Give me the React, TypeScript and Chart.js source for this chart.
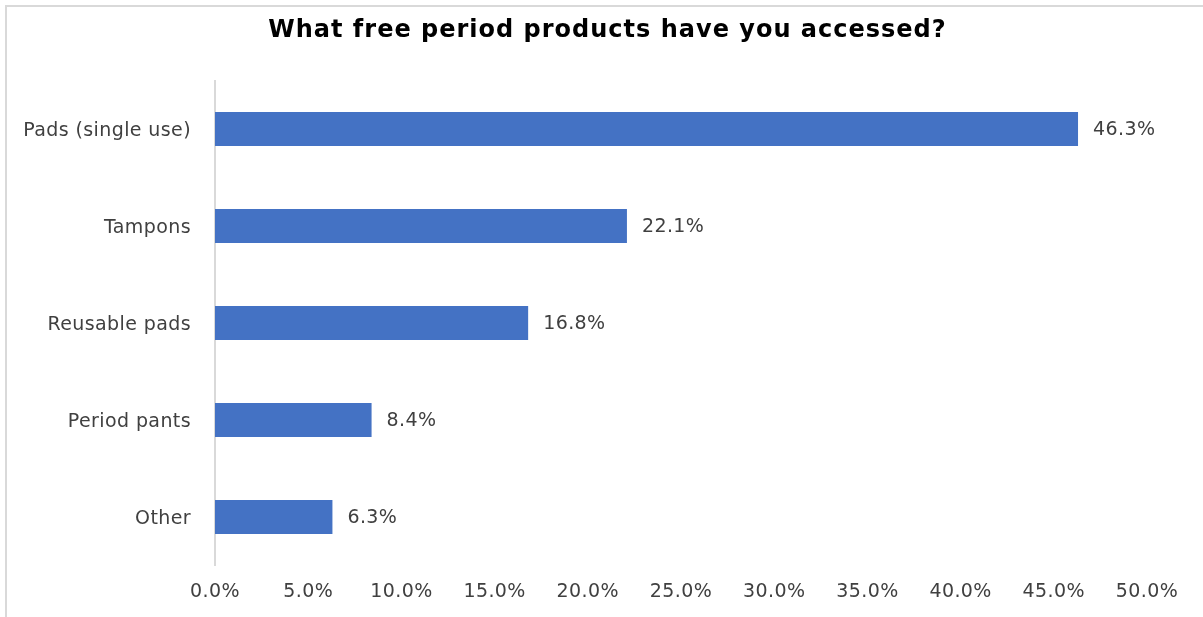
import React, { useEffect, useRef } from "react";
import { Chart, registerables } from "chart.js";

Chart.register(...registerables);

const titleText = "What free period products have you accessed?";
const categories = ["Pads (single use)", "Tampons", "Reusable pads", "Period pants", "Other"];
const values = [46.3, 22.1, 16.8, 8.4, 6.3];
const xTicksMin = 0;
const xTicksMax = 50;
const xTickStep = 5;

const FONT = "'DejaVu Sans', 'Open Sans', sans-serif";
const TEXT = "#404040";
const SPACING = "0.4px";

const spacing = {
  id: "spacing",
  beforeLayout(chart: any) {
    chart.ctx.letterSpacing = SPACING;
  },
  beforeDraw(chart: any) {
    chart.ctx.letterSpacing = SPACING;
  },
};

const valueLabels = {
  id: "valueLabels",
  afterDatasetsDraw(chart: any) {
    const ctx = chart.ctx;
    const meta = chart.getDatasetMeta(0);
    ctx.save();
    ctx.font = `19px ${FONT}`;
    ctx.fillStyle = TEXT;
    ctx.textAlign = "left";
    ctx.textBaseline = "middle";
    meta.data.forEach((bar: any, i: number) => {
      ctx.fillText(values[i].toFixed(1) + "%", bar.x + 15, bar.y + 1);
    });
    ctx.restore();
  },
};

const centeredTitle = {
  id: "centeredTitle",
  afterDraw(chart: any) {
    const ctx = chart.ctx;
    ctx.save();
    ctx.letterSpacing = "1px";
    ctx.font = `bold 24px 'DejaVu Sans', 'Liberation Sans', sans-serif`;
    ctx.fillStyle = "#000000";
    ctx.textAlign = "center";
    ctx.textBaseline = "middle";
    ctx.fillText(titleText, chart.width / 2 + 6, 31);
    ctx.restore();
  },
};

export default function App() {
  const ref = useRef<HTMLCanvasElement | null>(null);
  useEffect(() => {
    document.body.style.margin = "0";
    const chart = new Chart(ref.current as HTMLCanvasElement, {
      type: "bar",
      data: {
        labels: categories,
        datasets: [
          {
            data: values,
            backgroundColor: "#4472C4",
            borderWidth: 0,
            barPercentage: 0.7,
            categoryPercentage: 0.5,
          },
        ],
      },
      options: {
        indexAxis: "y",
        animation: false,
        responsive: false,
        maintainAspectRatio: false,
        layout: { padding: { left: 0, right: 56, top: 80.5, bottom: 0 } },
        plugins: {
          legend: { display: false },
          tooltip: { enabled: false },
          title: { display: false },
        },
        scales: {
          x: {
            min: xTicksMin,
            max: xTicksMax,
            grid: { display: false, drawTicks: false },
            border: { display: false },
            ticks: {
              stepSize: xTickStep,
              color: TEXT,
              font: { family: FONT, size: 19 },
              padding: 15,
              maxRotation: 0,
              autoSkip: false,
              callback: (v: any) => Number(v).toFixed(1) + "%",
            },
            afterFit: (s: any) => {
              s.height = 51.5;
            },
          },
          y: {
            grid: { display: false, drawTicks: false },
            border: { display: true, color: "#d9d9d9", width: 2 },
            ticks: {
              color: TEXT,
              font: { family: FONT, size: 19 },
              padding: 24,
              labelOffset: 2,
            },
            afterFit: (s: any) => {
              s.width = 215;
            },
          },
        },
      },
      plugins: [spacing, valueLabels, centeredTitle],
    });
    return () => chart.destroy();
  }, []);

  return (
    <div style={{ position: "fixed", left: 0, top: 0, width: 1203, height: 617, background: "#fff", overflow: "hidden" }}>
      <div
        style={{
          position: "absolute",
          left: 5,
          top: 5,
          width: 1210,
          height: 620,
          borderTop: "2px solid #d9d9d9",
          borderLeft: "2px solid #d9d9d9",
        }}
      />
      <canvas ref={ref} width={1203} height={617} style={{ position: "absolute", left: 0, top: 0 }} />
    </div>
  );
}
